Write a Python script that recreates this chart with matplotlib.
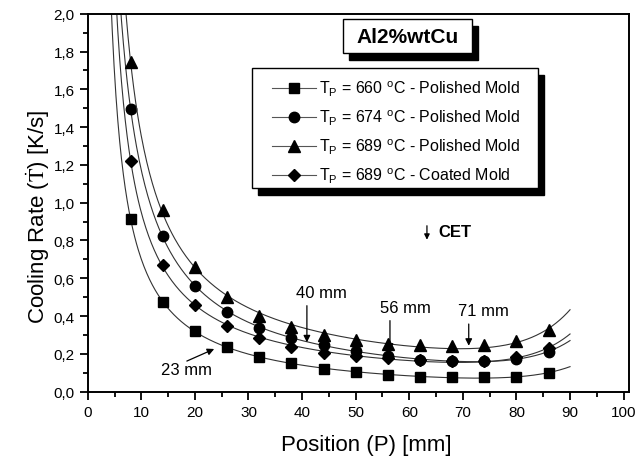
import numpy as np
import matplotlib
matplotlib.use("Agg")
import matplotlib.pyplot as plt
from matplotlib.patches import Rectangle
from matplotlib.ticker import MultipleLocator, FuncFormatter

plt.rcParams['font.family'] = ['Liberation Sans', 'DejaVu Sans']
plt.rcParams['mathtext.default'] = 'regular'

# measured cooling rates along the ingot
position = [8, 14, 20, 26, 32, 38, 44, 50, 56, 62, 68, 74, 80, 86]
rate_660_polished = [0.914, 0.476, 0.320, 0.235, 0.185, 0.151, 0.120, 0.102, 0.090, 0.080, 0.076, 0.076, 0.080, 0.099]
rate_674_polished = [1.496, 0.823, 0.561, 0.423, 0.337, 0.285, 0.248, 0.217, 0.190, 0.169, 0.162, 0.162, 0.173, 0.212]
rate_689_polished = [1.743, 0.962, 0.658, 0.499, 0.399, 0.341, 0.300, 0.275, 0.254, 0.247, 0.243, 0.247, 0.267, 0.326]
rate_689_coated = [1.222, 0.670, 0.459, 0.349, 0.282, 0.236, 0.204, 0.190, 0.178, 0.169, 0.162, 0.162, 0.182, 0.230]

series_labels = [r"T$_{P}$ = 660 $^{o}$C - Polished Mold",
                 r"T$_{P}$ = 674 $^{o}$C - Polished Mold",
                 r"T$_{P}$ = 689 $^{o}$C - Polished Mold",
                 r"T$_{P}$ = 689 $^{o}$C - Coated Mold"]
series_markers = ['s', 'o', '^', 'D']
series_msize = [7, 7.5, 8.5, 6]

# CET positions: label, text (x, y), arrow tail, arrow head
cet_labels = ["23 mm", "40 mm", "56 mm", "71 mm"]
cet_text_xy = [(18.5, 0.12), (43.7, 0.526), (59.3, 0.443), (73.9, 0.432)]
cet_tail = [(18.5, 0.162), (40.9, 0.455), (56.4, 0.376), (71.1, 0.358)]
cet_head = [(23.6, 0.226), (40.9, 0.261), (56.4, 0.217), (71.1, 0.243)]


def fit_curve(x, y, xs):
    # least squares on a decay + offset + late rise basis
    x = np.asarray(x, float)
    y = np.asarray(y, float)
    def basis(t):
        return np.column_stack([np.ones_like(t), 1 / t, 1 / t**3, np.exp((t - 90) / 8)])
    coef, *_ = np.linalg.lstsq(basis(x), y, rcond=None)
    return basis(xs) @ coef


fig = plt.figure(figsize=(6.37, 4.64), dpi=100)
ax = fig.add_axes([0.1377, 0.1537, 0.8497, 0.8146])

xs = np.linspace(3, 90, 500)
all_rates = [rate_660_polished, rate_674_polished, rate_689_polished, rate_689_coated]
handles = []
for rates, mk, ms, lab in zip(all_rates, series_markers, series_msize, series_labels):
    ax.plot(xs, fit_curve(position, rates, xs), color='#333333', lw=0.8)
    ax.plot(position, rates, linestyle='none', marker=mk, ms=ms, color='black')
    h, = ax.plot([], [], color='#555555', lw=0.8, marker=mk, ms=ms, mfc='black', mec='black')
    handles.append(h)

ax.set_xlim(0, 101)
ax.set_ylim(0, 2.0)
ax.xaxis.set_major_locator(MultipleLocator(10))
ax.xaxis.set_minor_locator(MultipleLocator(5))
ax.yaxis.set_major_locator(MultipleLocator(0.2))
ax.yaxis.set_minor_locator(MultipleLocator(0.1))
ax.yaxis.set_major_formatter(FuncFormatter(lambda v, _: f"{v:.1f}".replace('.', ',')))
ax.tick_params(which='major', direction='out', length=6, width=1.3, labelsize=11)
ax.tick_params(which='minor', direction='out', length=3.5, width=1.3)
for sp in ax.spines.values():
    sp.set_linewidth(1.4)

ax.set_xlabel("Position (P) [mm]", fontsize=16, va='center')
ax.xaxis.set_label_coords(0.514, -0.141)
ax.set_ylabel(r"Cooling Rate ($\dot{\mathrm{T}}$) [K/s]", fontsize=16, va='center',
              math_fontfamily='stix')
ax.yaxis.set_label_coords(-0.092, 0.465)

for lab, txy, tail, head in zip(cet_labels, cet_text_xy, cet_tail, cet_head):
    ax.annotate("", xy=head, xytext=tail,
                arrowprops=dict(arrowstyle='-|>', color='black', lw=0.9,
                                mutation_scale=10, shrinkA=0, shrinkB=0))
    ax.text(txy[0], txy[1], lab, fontsize=12, ha='center', va='center')

ax.annotate("", xy=(63.3, 0.804), xytext=(63.3, 0.878),
            arrowprops=dict(arrowstyle='-|>', color='black', lw=0.9,
                            mutation_scale=8, shrinkA=0, shrinkB=0))
ax.text(65.5, 0.845, "CET", fontsize=12, fontweight='bold', ha='left', va='center')

# alloy box with drop shadow
sx, sy = 6 / 637, 7 / 464
fig.patches.append(Rectangle((0.538 + sx, 0.883 - sy), 0.2025, 0.074,
                             transform=fig.transFigure, fc='black', ec='black', zorder=5))
fig.patches.append(Rectangle((0.538, 0.883), 0.2025, 0.074,
                             transform=fig.transFigure, fc='white', ec='black', lw=1.0, zorder=6))
fig.text(0.6392, 0.920, "Al2%wtCu", fontsize=15, fontweight='bold', ha='center', va='center', zorder=7)

# legend frame with drop shadow
lx0, ly0, lw_, lh_ = 251.7 / 637, 1 - 189 / 464, (538 - 251.7) / 637, (189 - 68.7) / 464
fig.patches.append(Rectangle((lx0 + sx, ly0 - sy), lw_, lh_, transform=fig.transFigure,
                             fc='black', ec='black', zorder=5))
fig.patches.append(Rectangle((lx0, ly0), lw_, lh_, transform=fig.transFigure,
                             fc='white', ec='black', lw=1.0, zorder=6))
leg = fig.legend(handles=handles, labels=series_labels, loc='upper left',
                 bbox_to_anchor=(272 / 637, 1 - 80 / 464), frameon=False,
                 fontsize=11.5, handlelength=2.75, handletextpad=0.2, labelspacing=0.6,
                 borderpad=0, borderaxespad=0, numpoints=1)
leg.set_zorder(8)

fig.savefig("out.png", dpi=100)
